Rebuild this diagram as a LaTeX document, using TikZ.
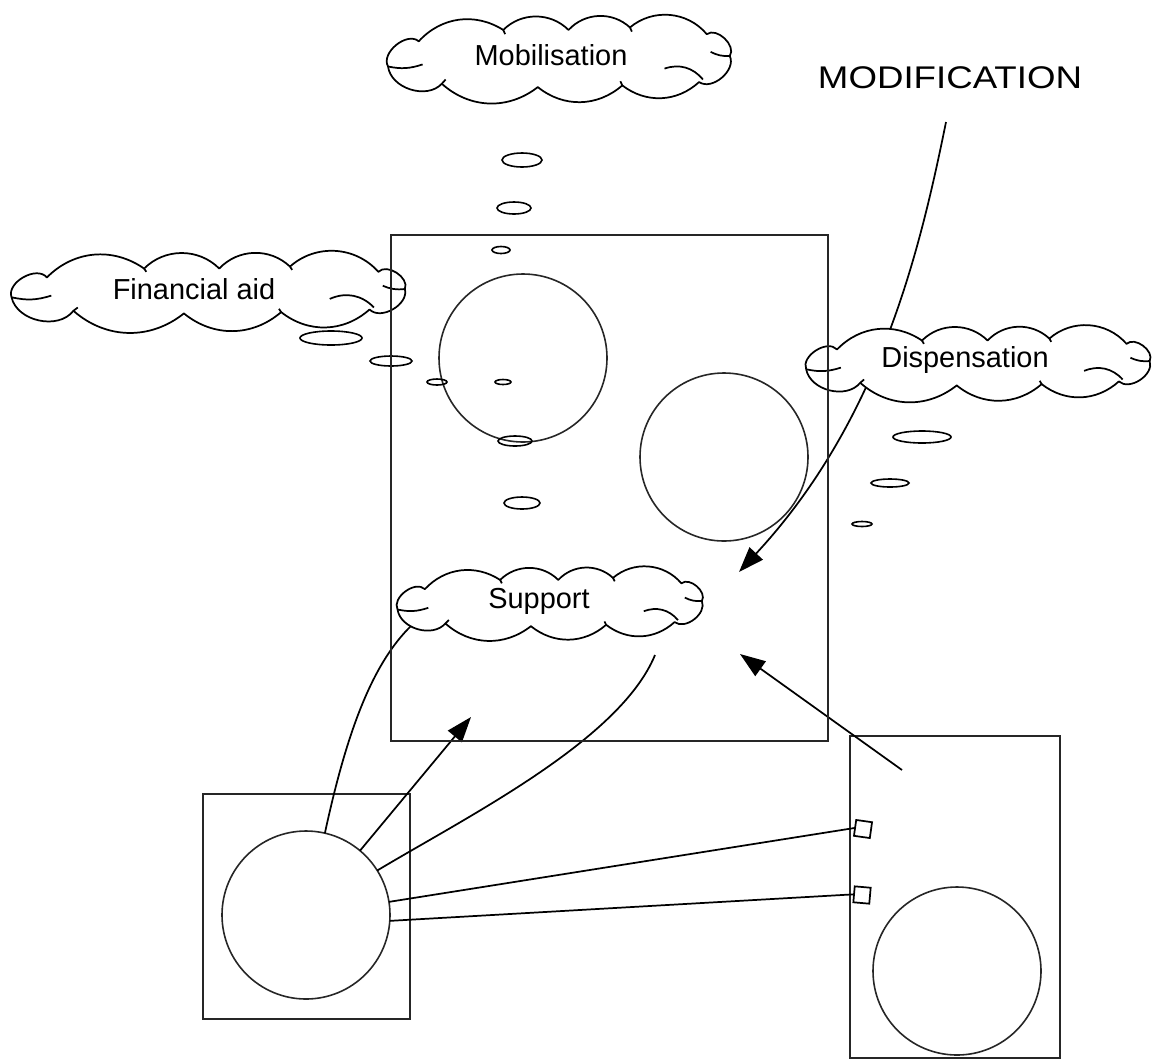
\documentclass[tikz,border=0pt]{standalone}
\usepackage{fontspec}
\setmainfont{Liberation Sans}
\usetikzlibrary{shapes.geometric,arrows.meta}
\newcommand\cloudoutline[4]{%
  \begin{scope}[shift={(#1,#2)},x=#3*0.75pt,y=#4*0.75pt]
    \path[cloudline,fill=white]
      (-0.88,-0.25) to[bend left=80] (-0.72,0.35) to[bend left=40] (-0.28,0.62)
      to[bend left=45] (0.06,0.62) to[bend left=45] (0.38,0.68) to[bend left=45] (0.78,0.52)
      to[bend left=80] (0.90,0.0) to[bend left=75] (0.74,-0.62) to[bend left=40] (0.34,-0.70)
      to[bend left=40] (-0.10,-0.74) to[bend left=40] (-0.60,-0.66) to[bend left=65] cycle;
    \draw[cloudline] (-0.88,-0.25) to[bend right=15] (-0.70,-0.20);
    \draw[cloudline] (0.90,0.0) to[bend left=15] (0.80,0.10);
    \draw[cloudline] (0.56,-0.30) to[bend left=35] (0.76,-0.56);
    \draw[cloudline] (-0.28,0.62) -- (-0.27,0.52);
    \draw[cloudline] (0.38,0.68) -- (0.39,0.58);
    \draw[cloudline] (0.34,-0.70) -- (0.33,-0.60);
    \draw[cloudline] (-0.60,-0.66) -- (-0.58,-0.56);
  \end{scope}}
\begin{document}
\begin{tikzpicture}[x=0.75pt,y=-0.75pt,
  frame/.style={draw=black!85,line width=1.2pt,inner sep=0,outer sep=0},
  ring/.style={circle,draw=black!85,line width=1.2pt,inner sep=0,outer sep=0,minimum size=168*0.75pt},
  cloudline/.style={draw=black,line width=1.3pt,line join=round},
  cloudtext/.style={inner sep=0,font=\fontsize{21.7}{26}\selectfont},
  bub/.style 2 args={ellipse,draw,line width=1.2pt,inner sep=0,outer sep=0,minimum width=#1*0.75pt,minimum height=#2*0.75pt},
  sq/.style={rectangle,draw,line width=1.3pt,inner sep=0,outer sep=0,minimum size=16*0.75pt,fill=white},
  conn/.style={line width=1.3pt},
  arr/.style={line width=1.3pt,-{Triangle[length=19pt,width=13.5pt]}}
]
\useasboundingbox (0,0) rectangle (1152,1061);

% frames and circles
\node[frame,anchor=north west,minimum width=437*0.75pt,minimum height=506*0.75pt] (big) at (391,235) {};
\node[frame,anchor=north west,minimum width=207*0.75pt,minimum height=225*0.75pt] (lbox) at (203,794) {};
\node[frame,anchor=north west,minimum width=210*0.75pt,minimum height=322*0.75pt] (rbox) at (850,736) {};
\node[ring] (c1) at (523,358) {};
\node[ring] (c2) at (724,457) {};
\node[ring] (lc) at (306,915) {};
\node[ring] (rc) at (957,971) {};

% free ends
\coordinate (modstart) at (946,122);
\coordinate (modend) at (739,572);
\coordinate (rstart) at (902,770);
\coordinate (rend) at (740,654);
\coordinate (lend) at (471,717);
\coordinate (supend) at (412,625);
\coordinate (cend) at (655,655);

% connectors
\draw[arr] (modstart) .. controls (920,250) and (880,420) .. (modend);
\draw[arr] (rstart) -- (rend);
\draw[arr] (lc.50) -- (lend);
\draw[conn] (lc.77) .. controls (345,740) and (370,665) .. (supend);
\draw[conn] (lc.32) .. controls (470,815) and (620,740) .. (cend);

\node[sq,rotate=-8] (s1) at (863,829) {};
\node[sq,rotate=-5] (s2) at (862,895) {};
\draw[conn] (lc.9) -- (s1.west);
\draw[conn] (lc.-4) -- (s2.west);

% thought bubbles
\node[bub={40}{14}] (m1) at (522,160) {};
\node[bub={34}{12}] (m2) at (514,208) {};
\node[bub={18}{7}] (m3) at (501,250) {};
\node[bub={62}{14}] (f1) at (331,338) {};
\node[bub={42}{10}] (f2) at (391,361) {};
\node[bub={20}{6}] (f3) at (437,382) {};
\node[bub={16}{5}] (f4) at (503,382) {};
\node[bub={34}{10}] (s3) at (515,441) {};
\node[bub={36}{12}] (s4) at (522,503) {};
\node[bub={58}{12}] (d1) at (922,437) {};
\node[bub={38}{8}] (d2) at (890,483) {};
\node[bub={20}{5}] (d3) at (862,524) {};

% clouds
\cloudoutline{557}{56}{192}{42}
\node[cloudtext] (mob) at (551,55) {Mobilisation};
\cloudoutline{206}{289}{221}{33}
\node[cloudtext] (fin) at (194,289) {Financial aid};
\cloudoutline{976}{361}{193}{33}
\node[cloudtext] (dis) at (965,360) {Dispensation};
\cloudoutline{548}{601}{171}{34}
\node[cloudtext] (sup) at (539,601) {Support};

% frame edges on top of clouds
\draw[draw=black!85,line width=1.2pt] (big.north west) rectangle (big.south east);

\node[font=\fontsize{23.5}{28}\selectfont] (mod) at (950,78) {\scalebox{1.17}[1]{MODIFICATION}};
\end{tikzpicture}
\end{document}
